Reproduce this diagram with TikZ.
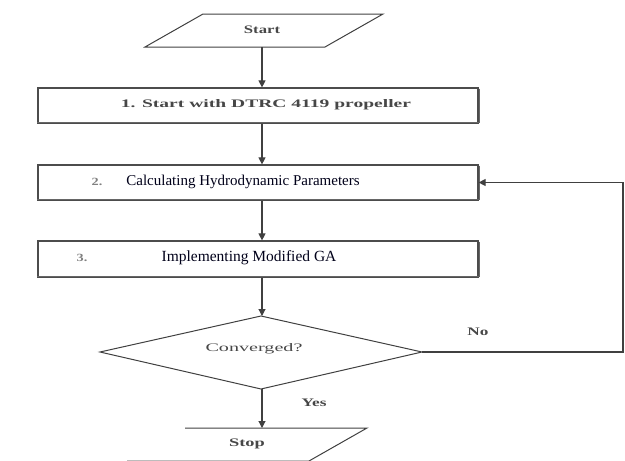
\documentclass[tikz,border=0pt]{standalone}
\usepackage{fontspec}
\usepackage{graphicx}
\setmainfont{Liberation Serif}
\usetikzlibrary{arrows.meta,shapes.geometric}
\newcommand{\wide}[2]{\scalebox{#1}[1]{#2}}
\begin{document}
\begin{tikzpicture}[x=1pt,y=-1pt,
  line/.style={draw=black!75, line width=1.1pt},
  arr/.style={line, -{Triangle[length=7pt,width=7pt]}},
  box/.style={draw=black!70, line width=1.2pt, rectangle, minimum width=440pt, inner sep=0pt},
  boxshadow/.style={draw=black!60, line width=1.2pt},
  lbl/.style={font=\fontsize{15}{17}\selectfont, text=black!90!blue, inner sep=0pt},
  glbl/.style={font=\fontsize{11.5}{14}\selectfont\bfseries, text=black!72, inner sep=0pt},
  num/.style={font=\fontsize{11}{13}\selectfont\bfseries, text=black!50, inner sep=0pt}]
\useasboundingbox (0,0) rectangle (625,461);
% Start parallelogram
\draw[line, line width=1pt] (203,14) -- (383,14) -- (325,47) -- (145,47) -- cycle;
\node[glbl] (start) at (262,30) {\wide{1.45}{Start}};
\coordinate (sbot) at (262,47);
% boxes
\node[box, minimum height=35pt] (b1) at (258,105.5) {};
\draw[boxshadow] ([xshift=1.2pt,yshift=-1.2pt]b1.north east) -- ([xshift=1.2pt,yshift=1.2pt]b1.south east) -- ([yshift=1.2pt]b1.south west);
\node[glbl] (t1) at (266,105) {\wide{1.7}{1. Start with DTRC 4119 propeller}};
\node[box, minimum height=35pt] (b2) at (258,182.5) {};
\draw[boxshadow] ([xshift=1.2pt,yshift=-1.2pt]b2.north east) -- ([xshift=1.2pt,yshift=1.2pt]b2.south east) -- ([yshift=1.2pt]b2.south west);
\node[num] (n2) at (97,182) {\wide{1.3}{2.}};
\node[lbl] (t2) at (243,182) {Calculating Hydrodynamic Parameters};
\node[box, minimum height=36pt] (b3) at (258,259) {};
\draw[boxshadow] ([xshift=1.2pt,yshift=-1.2pt]b3.north east) -- ([xshift=1.2pt,yshift=1.2pt]b3.south east) -- ([yshift=1.2pt]b3.south west);
\node[num] (n3) at (82,258) {\wide{1.3}{3.}};
\node[lbl, font=\fontsize{15.5}{17}\selectfont] (t3) at (249,258) {Implementing Modified GA};
% diamond
\draw[line, line width=1pt] (100,352) coordinate (dwest) -- (261,316) coordinate (dnorth) -- (422,352) coordinate (deast) -- (261,389) coordinate (dsouth) -- cycle;
\node[glbl, font=\fontsize{11.5}{14}\selectfont] (dia) at (254,349) {\wide{1.75}{Converged?}};
% Stop parallelogram
\draw[line, line width=1pt] (185,428) -- (367,428) -- (309,461) -- (127,461);
\node[glbl] (stop) at (247,444) {\wide{1.6}{Stop}};
\coordinate (stoptop) at (262,428);
% connectors
\draw[arr] (sbot) -- (b1.north -| sbot);
\draw[arr] (b1.south -| sbot) -- (b2.north -| sbot);
\draw[arr] (b2.south -| sbot) -- (b3.north -| sbot);
\draw[arr] (b3.south -| sbot) -- (dnorth -| sbot);
\draw[arr] (dsouth -| sbot) -- (stoptop);
\coordinate (fb) at (623,352);
\draw[arr] (deast) -- (fb) |- (b2.east);
\node[glbl] (no) at (478,332) {\wide{1.5}{No}};
\node[glbl] (yes) at (314,403) {\wide{1.5}{Yes}};
\end{tikzpicture}
\end{document}
